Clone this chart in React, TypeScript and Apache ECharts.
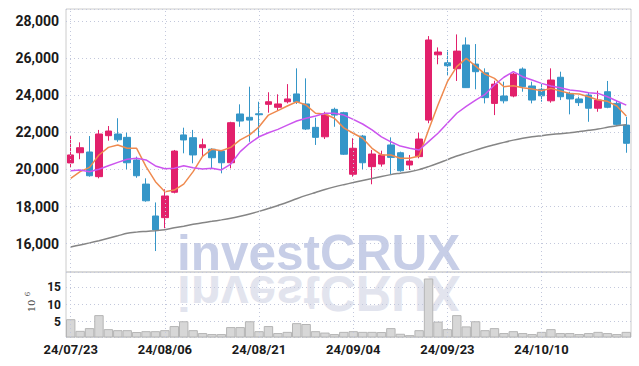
import React, { useEffect, useRef } from "react";
import * as echarts from "echarts";

const dates = [
  "24/07/23", "24/07/24", "24/07/25", "24/07/26", "24/07/29", "24/07/30", "24/07/31",
  "24/08/01", "24/08/02", "24/08/05", "24/08/06", "24/08/07", "24/08/08", "24/08/09",
  "24/08/12", "24/08/13", "24/08/14", "24/08/16", "24/08/19", "24/08/20", "24/08/21",
  "24/08/22", "24/08/23", "24/08/26", "24/08/27", "24/08/28", "24/08/29", "24/08/30",
  "24/09/02", "24/09/03", "24/09/04", "24/09/05", "24/09/06", "24/09/09", "24/09/10",
  "24/09/11", "24/09/12", "24/09/13", "24/09/19", "24/09/20", "24/09/23", "24/09/24",
  "24/09/25", "24/09/26", "24/09/27", "24/09/30", "24/10/02", "24/10/04", "24/10/07",
  "24/10/08", "24/10/10", "24/10/11", "24/10/14", "24/10/15", "24/10/16", "24/10/17",
  "24/10/18", "24/10/21", "24/10/22", "24/10/23",
];

const opens = [
  20350, 20900, 20940, 19610, 21820, 21910, 21730, 20510, 19210, 17490,
  17400, 18770, 21860, 21710, 21170, 21090, 20990, 20360, 22990, 22810,
  23000, 23510, 23350, 23650, 24070, 23530, 22270, 21760, 23240, 23060,
  19740, 21800, 20150, 20290, 21320, 20900, 20240, 20690, 22660, 26180,
  25750, 25430, 26710, 25680, 25210, 23560, 23960, 23960, 25410, 24500,
  24320, 23700, 24970, 24100, 23800, 24010, 23300, 24190, 23560, 22390,
];
const closes = [
  20780, 21170, 19660, 21910, 22070, 21600, 20360, 19660, 18310, 16740,
  18570, 20990, 21590, 20780, 21330, 20630, 20360, 22520, 22610, 22660,
  22950, 23650, 23530, 23800, 23650, 22180, 21730, 22930, 22930, 20820,
  21140, 20360, 20830, 20780, 20650, 19930, 20450, 21640, 26980, 26330,
  25590, 26380, 24410, 25270, 23870, 24600, 23700, 25140, 24460, 23740,
  23970, 24820, 23920, 23800, 23600, 23300, 23740, 23350, 22430, 21410,
];
const lows = [
  20130, 20550, 19610, 19520, 21550, 21490, 20010, 19550, 18260, 15600,
  16830, 18710, 20870, 20330, 20690, 20060, 19790, 20060, 22300, 21490,
  21730, 23060, 23170, 23560, 23530, 22130, 21320, 21640, 22300, 20780,
  19610, 20010, 19200, 20150, 19750, 19880, 19970, 20600, 22490, 25670,
  25090, 24770, 24390, 24320, 23560, 22930, 23560, 23890, 24190, 23560,
  23650, 23600, 23740, 22970, 23420, 22570, 23110, 23300, 22340, 20900,
];
const highs = [
  21800, 21460, 21800, 22130, 22340, 22760, 21980, 20690, 19520, 18220,
  18930, 21050, 22250, 22130, 21660, 21140, 21050, 22570, 23510, 24460,
  23650, 24160, 24050, 24600, 25450, 24910, 22790, 23110, 23330, 23110,
  21680, 21860, 21050, 21010, 21730, 20960, 20780, 21980, 27190, 26580,
  26440, 27280, 27120, 26760, 25450, 24780, 24730, 25210, 25500, 24730,
  24640, 25450, 25270, 24190, 23920, 24140, 24240, 24770, 23690, 22840,
];

const ma5 = [
  19520, 19880, 20110, 20780, 21190, 21320, 21140, 21140, 20150, 19340,
  18800, 18890, 19210, 19880, 20700, 21090, 21010, 21190, 21590, 21860,
  22300, 22930, 23170, 23420, 23650, 23470, 23030, 22990, 22760, 22240,
  21950, 21680, 21140, 20780, 20780, 20600, 20600, 20720, 22130, 23470,
  24730, 25540, 25990, 25570, 25140, 24910, 24460, 24510, 24410, 24340,
  24240, 24370, 24230, 24100, 24070, 23920, 23740, 23670, 23420, 22880,
];
const ma20 = [
  19930, 19970, 19880, 20010, 20200, 20380, 20550, 20600, 20510, 20190,
  20040, 20060, 20200, 20090, 20020, 20060, 19970, 20290, 20960, 21410,
  21760, 21980, 22160, 22390, 22610, 22760, 22880, 23030, 23030, 22930,
  22700, 22450, 22130, 21760, 21490, 21260, 21140, 21050, 21500, 21950,
  22490, 23030, 23400, 23740, 24050, 24550, 24970, 25270, 25000, 24820,
  24640, 24500, 24400, 24280, 24230, 24140, 24100, 23920, 23690, 23470,
];
const ma120 = [
  15820, 15930, 16040, 16160, 16290, 16420, 16560, 16620, 16660, 16700,
  16750, 16850, 16940, 17040, 17130, 17200, 17280, 17370, 17480, 17600,
  17740, 17890, 18060, 18230, 18420, 18600, 18760, 18920, 19060, 19180,
  19290, 19400, 19510, 19620, 19720, 19800, 19880, 19990, 20150, 20330,
  20530, 20720, 20880, 21040, 21200, 21330, 21460, 21580, 21680, 21760,
  21820, 21880, 21930, 21980, 22040, 22110, 22180, 22270, 22360, 22410,
];
// volume, millions of shares
const volumes = [
  5.7, 2.3, 3.1, 6.9, 2.8, 2.5, 2.5, 1.95, 2.2, 2.2,
  2.5, 3.7, 5.1, 2.5, 1.65, 1.35, 1.35, 3.4, 3.4, 5.1,
  2.2, 3.7, 1.65, 2.0, 4.55, 4.3, 2.2, 1.8, 1.35, 2.0,
  2.2, 2.0, 2.0, 1.95, 3.1, 1.45, 1.05, 2.5, 17.6, 5.0,
  2.8, 6.9, 3.6, 5.1, 2.5, 3.1, 1.65, 2.2, 1.65, 1.35,
  2.0, 2.8, 1.65, 1.65, 1.35, 1.65, 2.0, 1.65, 1.35, 2.0,
];
const gridDates = ["24/07/23", "24/08/06", "24/08/21", "24/09/04", "24/09/23", "24/10/10"];

const UP = "#e2206b";
const DOWN = "#3596c8";
const GRIDLINE = "#c3c8dc";
const FONT = "Roboto, sans-serif";

export default function App() {
  const ref = useRef<HTMLDivElement>(null);
  useEffect(() => {
    if (!ref.current) return;
    const chart = echarts.init(ref.current, undefined, { renderer: "svg" });
    const candles = dates.map((_, i) => [opens[i], closes[i], lows[i], highs[i]]);
    const vline = (gi: number) => ({
      type: "line",
      xAxisIndex: gi,
      yAxisIndex: gi,
      data: dates.map(() => "-"),
      symbol: "none",
      z: 1,
      silent: true,
      markLine: {
        silent: true,
        symbol: ["none", "none"],
        label: { show: false },
        lineStyle: { type: [1, 3], color: GRIDLINE, width: 1 },
        data: gridDates.map((d) => ({ xAxis: d })),
      },
    });
    chart.setOption({
      animation: false,
      backgroundColor: "#ffffff",
      grid: [
        { left: 66, right: 8, top: 9, height: 263, show: true, borderColor: "#cccccc", borderWidth: 1 },
        { left: 66, right: 8, top: 272, height: 65, show: true, borderColor: "#cccccc", borderWidth: 1 },
      ],
      xAxis: [
        {
          type: "category", gridIndex: 0, data: dates, boundaryGap: true,
          axisLabel: { show: false }, axisTick: { show: false }, axisLine: { show: false },
          splitLine: { show: false },
        },
        {
          type: "category", gridIndex: 1, data: dates, boundaryGap: true,
          axisLabel: {
            show: true, interval: 9, color: "#1a1a1a", fontSize: 13, fontWeight: "bold",
            fontFamily: FONT, margin: 6,
          },
          axisTick: { show: false }, axisLine: { show: false }, splitLine: { show: false },
        },
      ],
      yAxis: [
        {
          type: "value", gridIndex: 0, min: 14470, max: 28650, splitNumber: 7,
          axisLabel: {
            color: "#1a1a1a", fontSize: 14, fontWeight: "bold", fontFamily: FONT, margin: 7,
            showMinLabel: false, showMaxLabel: false,
          },
          axisLine: { show: false }, axisTick: { show: false },
          splitLine: { show: true, lineStyle: { type: [1, 3], color: GRIDLINE, width: 1 } },
        },
        {
          type: "value", gridIndex: 1, min: 0.5, max: 19.5, splitNumber: 4,
          axisLabel: {
            color: "#1a1a1a", fontSize: 12, fontWeight: "bold", fontFamily: FONT, margin: 5,
            showMinLabel: false, showMaxLabel: false,
          },
          axisLine: { show: false }, axisTick: { show: false },
          splitLine: { show: true, lineStyle: { type: [1, 3], color: GRIDLINE, width: 1 } },
        },
      ],
      graphic: [
        {
          type: "text", x: 177, y: 252.5, z: -1, scaleX: 0.99,
          style: {
            text: "investCRUX", fill: "#c7cee7",
            font: 'bold 50px "Liberation Sans", Arial, sans-serif',
            align: "left", verticalAlign: "middle",
          },
        },
        {
          type: "text", x: 177, y: 252.5, z: -1, scaleX: 0.99, scaleY: -1, originX: 0, originY: 273 - 252.5,
          style: {
            text: "investCRUX", fill: "#e2e4ee",
            font: 'bold 50px "Liberation Sans", Arial, sans-serif',
            align: "left", verticalAlign: "middle",
          },
        },
        {
          type: "text", x: 31, y: 306, rotation: Math.PI / 2, z: 5,
          style: { text: "10", fill: "#444", font: '10px "DejaVu Serif", serif', align: "center", verticalAlign: "middle" },
        },
        {
          type: "text", x: 28, y: 294, rotation: Math.PI / 2, z: 5,
          style: { text: "6", fill: "#444", font: '7px "DejaVu Serif", serif', align: "center", verticalAlign: "middle" },
        },
      ],
      series: [
        vline(0),
        vline(1),
        {
          type: "candlestick", xAxisIndex: 0, yAxisIndex: 0, data: candles, barWidth: 7, z: 3,
          itemStyle: { color: UP, color0: DOWN, borderColor: UP, borderColor0: DOWN, borderWidth: 1 },
        },
        {
          type: "line", xAxisIndex: 0, yAxisIndex: 0, data: ma5, symbol: "none", z: 4,
          lineStyle: { color: "#ef8a4f", width: 1.5 },
        },
        {
          type: "line", xAxisIndex: 0, yAxisIndex: 0, data: ma20, symbol: "none", z: 4,
          lineStyle: { color: "#cc55ee", width: 1.5 },
        },
        {
          type: "line", xAxisIndex: 0, yAxisIndex: 0, data: ma120, symbol: "none", z: 4, smooth: 0.3,
          lineStyle: { color: "#858585", width: 1.5 },
        },
        {
          type: "bar", xAxisIndex: 1, yAxisIndex: 1, data: volumes, barCategoryGap: "0%", z: 3,
          itemStyle: { color: "#d7d7d7", borderColor: "#b5b5b5", borderWidth: 1 },
        },
      ],
    });
    return () => chart.dispose();
  }, []);
  return <div ref={ref} style={{ position: "fixed", left: 0, top: 0, width: 639, height: 366 }} />;
}
